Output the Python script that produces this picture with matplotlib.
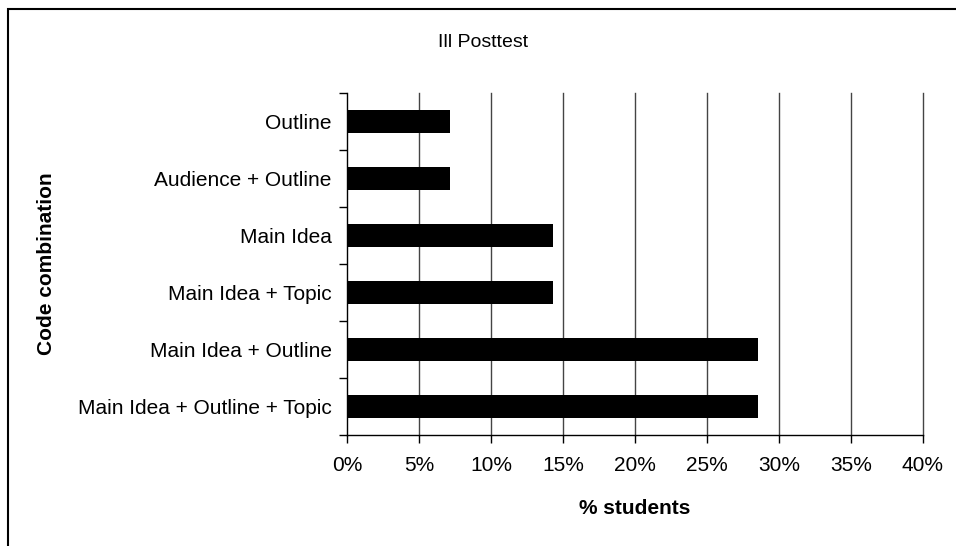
import matplotlib.pyplot as plt
from matplotlib.patches import Rectangle
from matplotlib.ticker import FixedLocator, PercentFormatter

plt.rcParams['font.family'] = ['Liberation Sans', 'DejaVu Sans']

# categories listed top to bottom as in the chart
categories = ["Outline", "Audience + Outline", "Main Idea", "Main Idea + Topic",
              "Main Idea + Outline", "Main Idea + Outline + Topic"]
percent_students = [7.14, 7.14, 14.29, 14.29, 28.57, 28.57]
x_ticks = [0, 5, 10, 15, 20, 25, 30, 35, 40]

fig = plt.figure(figsize=(9.56, 5.46), dpi=100)
ax = fig.add_axes([347 / 956, 1 - 435 / 546, 576 / 956, 342 / 546])

# bottom-up positions so the first category sits on top
n = len(categories)
pos = list(range(n - 1, -1, -1))
ax.barh(pos, percent_students, height=0.42, color='black', zorder=3)

ax.set_xlim(0, 40)
ax.set_ylim(-0.5, n - 0.5)
ax.set_xticks(x_ticks)
ax.xaxis.set_major_formatter(PercentFormatter(decimals=0))
ax.set_yticks(pos)
ax.set_yticklabels(categories)
ax.yaxis.set_minor_locator(FixedLocator([i - 0.5 for i in range(n + 1)]))

ax.tick_params(axis='x', direction='out', length=6, width=1, pad=9, labelsize=15)
ax.tick_params(axis='y', which='major', length=0, pad=11, labelsize=15)
ax.tick_params(axis='y', which='minor', direction='out', length=6, width=1)

# vertical gridlines (drawn unclipped so the 40% line is not cut in half)
for xv in x_ticks[1:]:
    ax.axvline(xv, color='#444444', linewidth=1, zorder=0, clip_on=False)
ax.spines['top'].set_visible(False)
ax.spines['right'].set_visible(False)
ax.spines['left'].set_linewidth(1)
ax.spines['bottom'].set_linewidth(1)

fig.text(483 / 956, 1 - 43 / 546, "Ill Posttest", ha='center', va='center', fontsize=14)
fig.text(635 / 956, 1 - 508 / 546, "% students", ha='center', va='center',
         fontsize=15, fontweight='bold')
fig.text(47 / 956, 1 - 264 / 546, "Code combination", ha='center', va='center',
         rotation=90, fontsize=15, fontweight='bold')

# outer chart frame, running off the right and bottom edges
fig.patches.append(Rectangle((7.5 / 956, -0.1), 1.2, 1 - 9 / 546 + 0.1,
                             transform=fig.transFigure, fill=False,
                             edgecolor='black', linewidth=1.5))

fig.savefig('out.png', dpi=100, facecolor='white')
